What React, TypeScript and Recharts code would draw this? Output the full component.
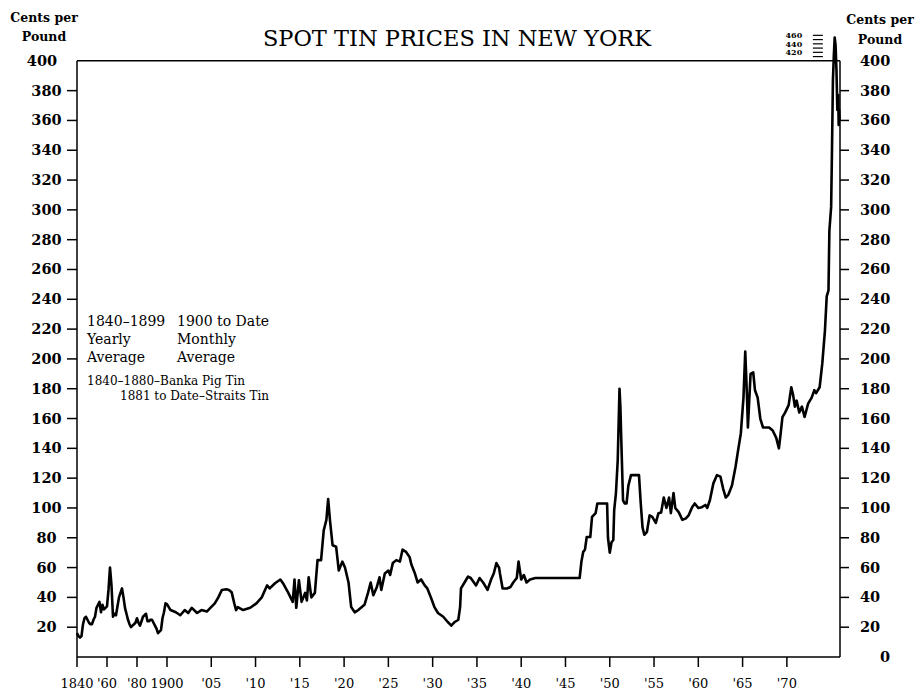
import { LineChart, Line, XAxis, YAxis, ReferenceLine } from 'recharts';

// 1840-1899 yearly averages (cents per pound)
const yearly: [number, number][] = [
  [1840, 16], [1841, 14], [1842, 13], [1843, 14], [1844, 22], [1845, 26], [1846, 27], [1847, 25],
  [1848, 23], [1849, 22], [1850, 22], [1851, 25], [1852, 27], [1853, 33], [1854, 35], [1855, 37],
  [1856, 30], [1857, 35], [1858, 32], [1859, 33], [1860, 34], [1861, 45], [1862, 60], [1863, 48],
  [1864, 27], [1865, 29], [1866, 28], [1867, 34], [1868, 40], [1869, 43], [1870, 46], [1871, 40],
  [1872, 33], [1873, 29], [1874, 25], [1875, 22], [1876, 20], [1877, 21], [1878, 22], [1879, 23],
  [1880, 26], [1881, 23], [1882, 21], [1883, 24], [1884, 27], [1885, 28], [1886, 29], [1887, 24],
  [1888, 24], [1889, 25], [1890, 25], [1891, 23], [1892, 21], [1893, 19], [1894, 16], [1895, 17],
  [1896, 18], [1897, 26], [1898, 30], [1899, 36],
];

// 1900 to date, monthly averages as [year, cents]
const monthly1900to1920: [number, number][] = [
  [1900.0, 35.5], [1900.4, 31.5], [1901.0, 30], [1901.5, 28], [1902.0, 31.5], [1902.4, 29.5],
  [1902.8, 33], [1903.4, 29.5], [1903.9, 31.5], [1904.5, 30.5], [1904.9, 33], [1905.4, 36],
  [1905.8, 40], [1906.2, 45], [1906.7, 45.5], [1907.0, 45], [1907.3, 43.5], [1907.6, 36],
  [1907.8, 31.5], [1908.0, 33.5], [1908.6, 31.5], [1909.4, 33], [1910.1, 36], [1910.7, 40],
  [1911.3, 48], [1911.6, 46], [1912.2, 49.5], [1912.8, 52], [1913.1, 49.5], [1913.7, 43],
  [1914.2, 37], [1914.4, 52], [1914.6, 33], [1914.9, 51.5], [1915.2, 37], [1915.6, 43],
  [1915.8, 38], [1916.0, 53.5], [1916.3, 40], [1916.7, 43], [1917.0, 65], [1917.4, 65],
  [1917.7, 85], [1918.0, 92], [1918.2, 106], [1918.4, 92], [1918.7, 75], [1919.1, 74],
  [1919.4, 58], [1919.8, 64], [1920.1, 60], [1920.5, 50], [1920.8, 33.5],
];

const monthly1921to1946: [number, number][] = [
  [1921.2, 30], [1921.6, 31.5], [1922.0, 33.5], [1922.3, 35], [1922.7, 43], [1923.0, 50],
  [1923.3, 41.5], [1923.7, 47], [1924.0, 53.5], [1924.2, 45], [1924.6, 56], [1925.0, 58],
  [1925.2, 55], [1925.5, 63], [1925.9, 65], [1926.3, 64], [1926.6, 72], [1927.0, 70.5],
  [1927.4, 67], [1927.6, 62], [1928.0, 56], [1928.3, 50], [1928.7, 52], [1929.1, 48],
  [1929.4, 46], [1929.8, 40], [1930.2, 33.5], [1930.6, 29.5], [1931.2, 27], [1931.7, 23.5],
  [1932.1, 21], [1932.5, 23.5], [1932.9, 25], [1933.1, 33.5], [1933.2, 46], [1933.6, 50],
  [1934.0, 54], [1934.3, 53], [1934.9, 48], [1935.3, 53], [1935.7, 50], [1936.2, 45],
  [1936.6, 52], [1936.9, 56], [1937.2, 63], [1937.5, 60], [1937.6, 56], [1937.9, 46],
  [1938.4, 46], [1938.8, 47], [1939.1, 50], [1939.5, 53], [1939.7, 64], [1940.0, 52],
  [1940.3, 55], [1940.6, 50], [1941.0, 52], [1941.6, 53], [1946.6, 53],
];

const monthly1947to1964: [number, number][] = [
  [1946.8, 64], [1947.0, 70.5], [1947.2, 72], [1947.4, 80.5], [1947.8, 80.5], [1948.0, 94],
  [1948.4, 96.5], [1948.6, 103], [1949.4, 103], [1949.7, 103], [1949.8, 80], [1950.0, 70],
  [1950.2, 77], [1950.4, 78.5], [1950.5, 98.5], [1950.7, 110], [1950.9, 132], [1951.1, 180],
  [1951.2, 168], [1951.3, 146], [1951.5, 105], [1951.7, 103], [1951.9, 103], [1952.1, 115],
  [1952.4, 122], [1953.3, 122], [1953.5, 103], [1953.7, 87], [1953.9, 82], [1954.2, 84],
  [1954.5, 95], [1954.8, 94], [1955.2, 90], [1955.5, 96.5], [1955.8, 97], [1956.1, 107],
  [1956.4, 100], [1956.7, 107], [1956.9, 96.5], [1957.2, 110], [1957.4, 100], [1957.8, 97],
  [1958.2, 92], [1958.6, 93], [1958.9, 95], [1959.3, 100.5], [1959.6, 103], [1960.0, 100],
  [1960.4, 100.5], [1960.8, 102], [1961.0, 100], [1961.3, 105], [1961.7, 116.5], [1962.1, 122],
  [1962.5, 121], [1962.8, 113], [1963.1, 107], [1963.4, 109], [1963.8, 115], [1964.2, 127.5],
  [1964.5, 139], [1964.8, 150],
];

const monthly1965to1975: [number, number][] = [
  [1965.1, 174], [1965.3, 205], [1965.5, 174], [1965.6, 154], [1965.9, 190], [1966.2, 191],
  [1966.4, 179], [1966.7, 174], [1967.0, 160], [1967.3, 154], [1968.0, 154], [1968.4, 152],
  [1968.8, 147], [1969.1, 140], [1969.3, 150], [1969.5, 161], [1969.8, 164], [1970.2, 169],
  [1970.5, 181], [1970.7, 176], [1970.9, 168], [1971.1, 172], [1971.4, 164], [1971.7, 168],
  [1972.0, 161], [1972.4, 170], [1972.8, 174], [1973.1, 179], [1973.3, 177], [1973.7, 181],
  [1974.0, 197], [1974.3, 219], [1974.5, 242], [1974.7, 246], [1974.8, 286], [1975.0, 302],
  [1975.1, 342], [1975.2, 387], [1975.3, 410], [1975.4, 455], [1975.5, 437], [1975.6, 394],
  [1975.7, 367], [1975.8, 377], [1975.85, 357], [1975.9, 367], [1975.96, 360],
];

const xTickYears = [1840, 1860, 1880, 1900, 1905, 1910, 1915, 1920, 1925, 1930, 1935, 1940, 1945, 1950, 1955, 1960, 1965, 1970];
const xTickLabels = ['1840', "'60", "'80", '1900', "'05", "'10", "'15", "'20", "'25", "'30", "'35", "'40", "'45", "'50", "'55", "'60", "'65", "'70"];
const yTicks = [0, 20, 40, 60, 80, 100, 120, 140, 160, 180, 200, 220, 240, 260, 280, 300, 320, 340, 360, 380, 400];
const brokenTicks = [410, 420, 430, 440, 450, 460];
const brokenLabels = [420, 440, 460];

// time axis is broken: 20 years per division before 1900, 5 years after
const pos = (year: number) => (year <= 1900 ? (year - 1840) * 1.5 : 90 + (year - 1900) * 8.857);
// value axis is compressed above 400
const toChart = (c: number) => (c <= 400 ? c : 400 + (c - 400) * 0.285);

const X_END = pos(1976);
const FONT = 'DejaVu Serif';

const data = [...yearly, ...monthly1900to1920, ...monthly1921to1946, ...monthly1947to1964, ...monthly1965to1975]
  .map(([year, cents]) => ({ x: pos(year), v: toChart(cents) }));

// one tick renderer draws both the left and the right scale
const ValueTick = ({ y, payload }: any) => {
  const v = payload.value;
  const labelProps = { fontFamily: FONT, fontWeight: 'bold', fontSize: 14.5, fill: '#000', dy: 5 };
  return (
    <g>
      {v > 0 && v < 400 && <line x1={67} x2={77} y1={y} y2={y} stroke="#000" strokeWidth={1.5} />}
      {v > 0 && v < 400 && <line x1={840} x2={849} y1={y} y2={y} stroke="#000" strokeWidth={1.5} />}
      {v > 0 && (
        <text x={v === 400 ? 42 : 46.5} y={y} textAnchor="middle" {...labelProps}>
          {v}
        </text>
      )}
      <text x={v === 0 ? 880 : 860} y={y} textAnchor="start" {...labelProps}>
        {v}
      </text>
    </g>
  );
};

const BottomTick = ({ x, index }: any) => (
  <g>
    <line x1={x} x2={x} y1={657} y2={667} stroke="#000" strokeWidth={1.5} />
    <text x={x} y={688} textAnchor="middle" fontFamily={FONT} fontSize={13} fill="#000">
      {xTickLabels[index]}
    </text>
  </g>
);

export default function App() {
  return (
    <div style={{ position: 'absolute', left: 0, top: 0, width: 917, height: 696, background: '#fff' }}>
      <LineChart width={917} height={696} data={data} margin={{ top: 34, right: 77, bottom: 0, left: 0 }}>
        <XAxis
          type="number"
          dataKey="x"
          domain={[0, X_END]}
          ticks={xTickYears.map(pos)}
          interval={0}
          height={39}
          tick={<BottomTick />}
          tickLine={false}
          axisLine={{ stroke: '#000', strokeWidth: 1.5 }}
        />
        <YAxis yAxisId="left" orientation="left" width={77} domain={[0, 418]} ticks={yTicks} interval={0} tick={<ValueTick />} tickLine={false} axisLine={false} />
        <ReferenceLine yAxisId="left" y={400} stroke="#000" strokeWidth={1.5} />
        <ReferenceLine yAxisId="left" segment={[{ x: 0, y: 0 }, { x: 0, y: 400 }]} stroke="#000" strokeWidth={1.5} />
        <ReferenceLine yAxisId="left" segment={[{ x: X_END, y: 0 }, { x: X_END, y: 400 }]} stroke="#000" strokeWidth={1.5} />
        {brokenTicks.map((t) => (
          <ReferenceLine
            key={t}
            yAxisId="left"
            segment={[{ x: 736, y: toChart(t) }, { x: 746, y: toChart(t) }]}
            stroke="#000"
            strokeWidth={1.2}
          />
        ))}
        {brokenLabels.map((t) => (
          <ReferenceLine
            key={'l' + t}
            yAxisId="left"
            segment={[{ x: 710, y: toChart(t) }, { x: 724, y: toChart(t) }]}
            stroke="none"
            label={{ value: String(t), position: 'center', fontSize: 8, fontWeight: 'bold', fontFamily: FONT, fill: '#000' }}
          />
        ))}
        <Line yAxisId="left" type="linear" dataKey="v" stroke="#000" strokeWidth={2.6} dot={false} isAnimationActive={false} strokeLinejoin="round" />
      </LineChart>
      <svg width={917} height={696} style={{ position: 'absolute', left: 0, top: 0, pointerEvents: 'none' }}>
        <g fontFamily={FONT} fill="#000">
          <text x={457} y={46} textAnchor="middle" fontSize={22.5}>SPOT TIN PRICES IN NEW YORK</text>
          <text x={44} y={22} textAnchor="middle" fontSize={12.5} fontWeight="bold">Cents per</text>
          <text x={44} y={41} textAnchor="middle" fontSize={12.5} fontWeight="bold">Pound</text>
          <text x={880} y={24} textAnchor="middle" fontSize={12.5} fontWeight="bold">Cents per</text>
          <text x={880} y={44} textAnchor="middle" fontSize={12.5} fontWeight="bold">Pound</text>
          <text x={87} y={326} fontSize={14}>1840–1899</text>
          <text x={177} y={326} fontSize={14}>1900 to Date</text>
          <text x={87} y={344} fontSize={14}>Yearly</text>
          <text x={177} y={344} fontSize={14}>Monthly</text>
          <text x={87} y={362} fontSize={14}>Average</text>
          <text x={177} y={362} fontSize={14}>Average</text>
          <text x={87} y={385} fontSize={12}>1840–1880–Banka Pig Tin</text>
          <text x={120} y={400} fontSize={12}>1881 to Date–Straits Tin</text>
        </g>
      </svg>
    </div>
  );
}
